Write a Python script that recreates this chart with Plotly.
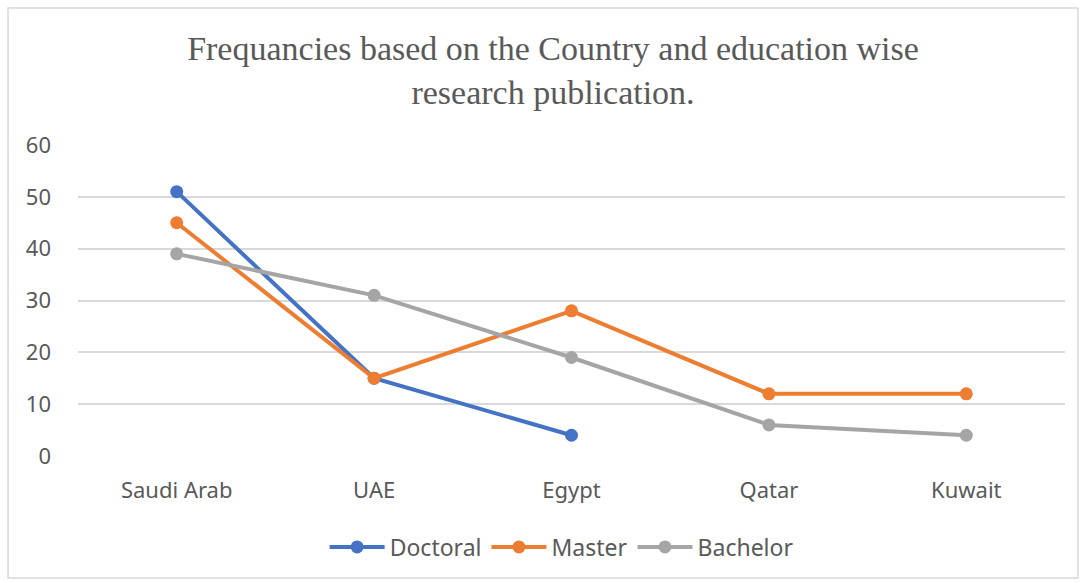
import plotly.graph_objects as go

categories = ["Saudi Arab", "UAE", "Egypt", "Qatar", "Kuwait"]
doctoral = [51, 15, 4, None, None]
master = [45, 15, 28, 12, 12]
bachelor = [39, 31, 19, 6, 4]
y_ticks = [0, 10, 20, 30, 40, 50, 60]

series = [
    ("Doctoral", doctoral, "#4472C4"),
    ("Master", master, "#ED7D31"),
    ("Bachelor", bachelor, "#A5A5A5"),
]

fig = go.Figure()
for name, vals, color in series:
    fig.add_trace(go.Scatter(
        x=categories, y=vals, name=name, mode="lines+markers",
        line=dict(color=color, width=4),
        marker=dict(color=color, size=13),
        connectgaps=False,
    ))

fig.update_layout(
    width=1085, height=583,
    margin=dict(l=78, r=20, t=145, b=127),
    paper_bgcolor="white", plot_bgcolor="white",
    title=dict(
        text="Frequancies based on the Country and education wise<br>research publication.",
        font=dict(family="Liberation Serif", size=34, color="#595959"),
        x=0.5097, xanchor="center", xref="container",
        y=0.897, yanchor="middle", yref="container",
    ),
    xaxis=dict(
        type="category", range=[-0.5, 4.5],
        showgrid=False, showline=False, zeroline=False,
        tickfont=dict(family="Noto Sans", size=22, color="#595959"),
        ticks="", ticklabelstandoff=19,
    ),
    yaxis=dict(
        range=[0, 60], tickvals=y_ticks,
        showgrid=True, gridcolor="#D9D9D9", gridwidth=1.5,
        zeroline=False, showline=False,
        tickfont=dict(family="Noto Sans", size=22, color="#595959"),
        ticks="", ticklabelstandoff=26,
    ),
    showlegend=True,
    legend=dict(
        orientation="h", x=0.49, xanchor="center",
        y=-0.2926, yanchor="middle",
        font=dict(family="Noto Sans", size=23, color="#595959"),
        itemwidth=55,
    ),
    shapes=[dict(
        type="rect", xref="paper", yref="paper",
        x0=-0.0709, x1=1.0132, y0=-0.392, y1=1.4405,
        line=dict(color="#D9D9D9", width=1.5),
        layer="below",
    )],
)

fig.write_html("out.html")
